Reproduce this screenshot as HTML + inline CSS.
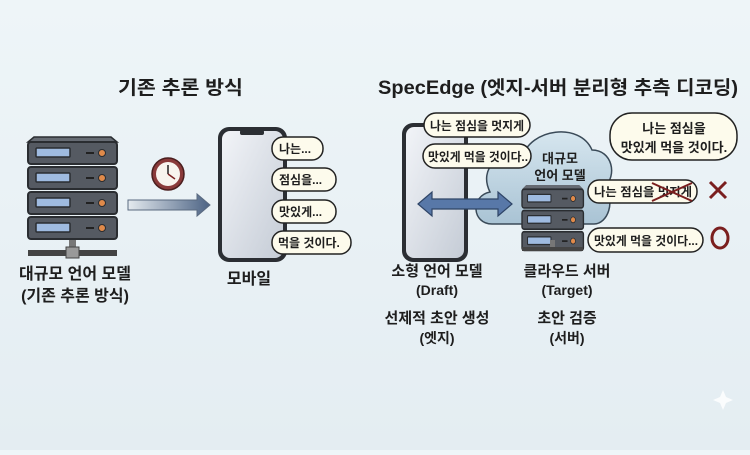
<!DOCTYPE html>
<html><head><meta charset="utf-8"><style>
html,body{margin:0;padding:0;}
body{width:750px;height:450px;overflow:hidden;background:linear-gradient(#eef5f8,#e4edf2);}
svg text{font-family:"Liberation Sans","Noto Sans CJK KR",sans-serif;font-weight:bold;fill:#1e1e1e;}
</style></head><body>
<svg width="750" height="450" viewBox="0 0 750 450" xmlns="http://www.w3.org/2000/svg">
<defs>
<linearGradient id="arr" x1="0" x2="1"><stop offset="0" stop-color="#e4eaef"/><stop offset="1" stop-color="#4c6384"/></linearGradient>
<linearGradient id="ph" x1="0" y1="0" x2="1" y2="1"><stop offset="0" stop-color="#f2f4f8"/><stop offset="1" stop-color="#c5ccd6"/></linearGradient>
<linearGradient id="cl" x1="0" y1="0" x2="0" y2="1"><stop offset="0" stop-color="#d6e6ef"/><stop offset="1" stop-color="#a9c3d4"/></linearGradient>
<g id="unit"><rect x="0" y="0" width="89" height="22" rx="3" fill="#555a62" stroke="#2a2d31" stroke-width="2"/><rect x="8" y="6" width="34" height="9" rx="1" fill="#9fbbe0" stroke="#2a2d31" stroke-width="1.5"/><line x1="58" y1="11" x2="66" y2="11" stroke="#222" stroke-width="2"/><circle cx="74" cy="11" r="3.5" fill="#e08a4a" stroke="#2a2d31" stroke-width="1"/></g>
</defs>

<text x="118" y="94" font-size="19" textLength="125" lengthAdjust="spacingAndGlyphs">기존 추론 방식</text>
<text x="378" y="94" font-size="19" textLength="360" lengthAdjust="spacingAndGlyphs">SpecEdge (엣지-서버 분리형 추측 디코딩)</text>

<path d="M34 137 L111 137 L117 142 L28 142 Z" fill="#666b73" stroke="#2a2d31" stroke-width="1.5"/>
<use href="#unit" x="28" y="142"/><use href="#unit" x="28" y="167"/><use href="#unit" x="28" y="192"/><use href="#unit" x="28" y="217"/>
<rect x="69" y="240" width="7" height="9" fill="#777"/>
<rect x="28" y="250" width="89" height="6" fill="#444"/>
<rect x="66" y="247" width="13" height="11" fill="#999" stroke="#444"/>

<circle cx="168" cy="174" r="16" fill="#8a3a3a" stroke="#4a1e1e" stroke-width="1.5"/>
<circle cx="168" cy="174" r="12" fill="#f8f4ee"/>
<line x1="168" y1="174" x2="168" y2="165" stroke="#222" stroke-width="1.5"/><line x1="168" y1="174" x2="175" y2="179" stroke="#7a2020" stroke-width="1.5"/>

<path d="M128 200 L197 200 L197 194 L210 205 L197 216 L197 210 L128 210 Z" fill="url(#arr)" stroke="#5a6a80" stroke-width="1"/>

<rect x="218" y="127" width="69" height="135" rx="11" fill="#2b2e33"/>
<rect x="222" y="131" width="61" height="127" rx="8" fill="url(#ph)"/>
<rect x="240" y="130" width="24" height="5" rx="2" fill="#2b2e33"/>
<g font-size="12">
<rect x="272" y="137" width="51" height="23" rx="11" fill="#fdfbec" stroke="#222" stroke-width="1.5"/><text x="279" y="153">나는...</text>
<rect x="272" y="168" width="64" height="23" rx="11" fill="#fdfbec" stroke="#222" stroke-width="1.5"/><text x="279" y="184">점심을...</text>
<rect x="272" y="200" width="64" height="23" rx="11" fill="#fdfbec" stroke="#222" stroke-width="1.5"/><text x="279" y="216">맛있게...</text>
<rect x="272" y="231" width="79" height="23" rx="11" fill="#fdfbec" stroke="#222" stroke-width="1.5"/><text x="278" y="247">먹을 것이다.</text>
</g>
<text x="75" y="279" font-size="16" text-anchor="middle">대규모 언어 모델</text>
<text x="75" y="301" font-size="16" text-anchor="middle">(기존 추론 방식)</text>
<text x="249" y="284" font-size="16" text-anchor="middle">모바일</text>

<rect x="402" y="123" width="66" height="139" rx="11" fill="#2b2e33"/>
<rect x="406" y="127" width="58" height="131" rx="8" fill="url(#ph)"/>

<path d="M492 224 C472 224 470 196 490 192 C478 168 500 150 522 158 C530 128 580 122 592 150 C612 150 618 175 604 188 C616 200 608 224 594 224 Z" fill="url(#cl)" stroke="#3a4a58" stroke-width="1.5"/>
<text x="560" y="163" font-size="13" text-anchor="middle">대규모</text>
<text x="560" y="180" font-size="13" text-anchor="middle">언어 모델</text>

<g transform="translate(522,185) scale(0.69,0.85)">
<path d="M6 0 L83 0 L89 5 L0 5 Z" fill="#666b73"/>
<use href="#unit" x="0" y="5"/><use href="#unit" x="0" y="30"/><use href="#unit" x="0" y="55"/>
</g>
<rect x="550" y="240" width="5" height="8" fill="#777"/>
<rect x="522" y="247" width="61" height="4" fill="#444"/>

<path d="M418 204 L432 192 L432 199 L498 199 L498 192 L512 204 L498 216 L498 209 L432 209 L432 216 Z" fill="#5878a8" stroke="#2e4466" stroke-width="1.2"/>

<g font-size="12">
<rect x="424" y="113" width="106" height="24" rx="12" fill="#fdfbec" stroke="#222" stroke-width="1.5"/><text x="430" y="130" textLength="94" lengthAdjust="spacingAndGlyphs">나는 점심을 멋지게</text>
<rect x="423" y="144" width="108" height="24" rx="12" fill="#fdfbec" stroke="#222" stroke-width="1.5"/><text x="428" y="161" textLength="100" lengthAdjust="spacingAndGlyphs">맛있게 먹을 것이다..</text>
<rect x="610" y="113" width="127" height="47" rx="22" fill="#fdfbec" stroke="#222" stroke-width="1.5"/>
<text x="674" y="133" font-size="13" text-anchor="middle">나는 점심을</text>
<text x="674" y="152" font-size="13" text-anchor="middle">맛있게 먹을 것이다.</text>
<rect x="588" y="180" width="109" height="23" rx="11" fill="#fdfbec" stroke="#222" stroke-width="1.5"/><text x="594" y="196" textLength="98" lengthAdjust="spacingAndGlyphs">나는 점심을 멋지게</text>
<line x1="652" y1="183" x2="692" y2="201" stroke="#7a1f1f" stroke-width="2"/><line x1="652" y1="201" x2="692" y2="183" stroke="#7a1f1f" stroke-width="2"/>
<rect x="588" y="228" width="115" height="24" rx="12" fill="#fdfbec" stroke="#222" stroke-width="1.5"/><text x="594" y="245" textLength="104" lengthAdjust="spacingAndGlyphs">맛있게 먹을 것이다...</text>
</g>
<line x1="710" y1="182" x2="726" y2="198" stroke="#7a1f1f" stroke-width="3"/><line x1="726" y1="182" x2="710" y2="198" stroke="#7a1f1f" stroke-width="3"/>
<ellipse cx="720" cy="238" rx="8" ry="10" fill="none" stroke="#7a1f1f" stroke-width="3"/>

<g font-size="15" text-anchor="middle">
<text x="437" y="276">소형 언어 모델</text>
<text x="437" y="295" font-size="14">(Draft)</text>
<text x="437" y="323">선제적 초안 생성</text>
<text x="437" y="343" font-size="14">(엣지)</text>
<text x="567" y="276">클라우드 서버</text>
<text x="567" y="295" font-size="14">(Target)</text>
<text x="567" y="323">초안 검증</text>
<text x="567" y="343" font-size="14">(서버)</text>
</g>
<path d="M723 390 L726 397 L733 400 L726 403 L723 410 L720 403 L713 400 L720 397 Z" fill="#fff" opacity="0.8"/>
</svg>
</body></html>
